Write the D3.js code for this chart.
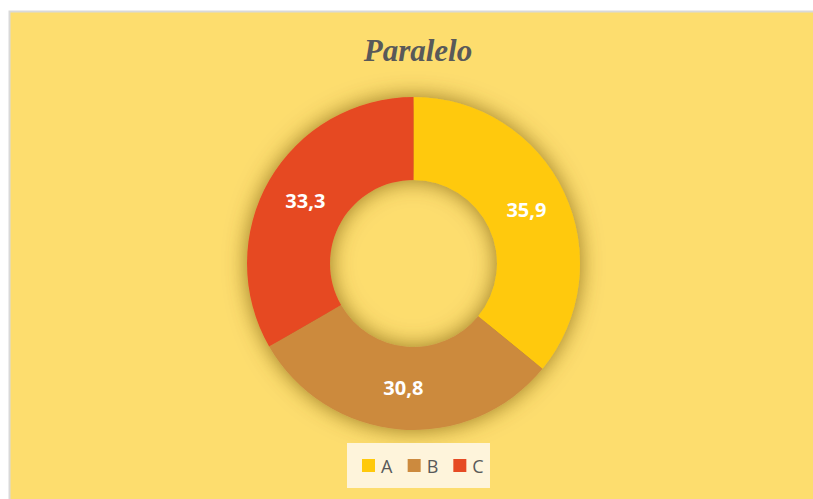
<!DOCTYPE html>
<html>
<head>
<meta charset="utf-8">
<script src="https://cdn.jsdelivr.net/npm/d3@7"></script>
<style>
  body { margin: 0; background: #fff; }
  svg { display: block; }
</style>
</head>
<body>
<svg width="813" height="499"></svg>
<script>
const categories = ["A", "B", "C"];
const values = [35.9, 30.8, 33.3];
const labels = ["35,9", "30,8", "33,3"];
const colors = ["#FFC90B", "#CC8A3E", "#E64A23"];

const svg = d3.select("svg");
const width = +svg.attr("width");
const height = +svg.attr("height");

// chart area
svg.append("rect")
    .attr("x", 9.5)
    .attr("y", 11.5)
    .attr("width", width)
    .attr("height", height)
    .attr("fill", "#FDDD6E")
    .attr("stroke", "#D9D9D9")
    .attr("stroke-width", 2);

// soft shadow like excel outer shadow
const defs = svg.append("defs");
const filter = defs.append("filter")
    .attr("id", "shadow")
    .attr("x", "-30%").attr("y", "-30%")
    .attr("width", "160%").attr("height", "160%");
filter.append("feDropShadow")
    .attr("dx", 0).attr("dy", 0)
    .attr("stdDeviation", 11)
    .attr("flood-color", "#6e5000")
    .attr("flood-opacity", 0.7);

svg.append("text")
    .attr("x", 418)
    .attr("y", 61)
    .attr("text-anchor", "middle")
    .attr("font-family", "'Liberation Serif', 'Times New Roman', serif")
    .attr("font-weight", "bold")
    .attr("font-style", "italic")
    .attr("font-size", 31)
    .attr("fill", "#595959")
    .text("Paralelo");

const cx = 413.5, cy = 263.5;
const outerR = 166.5, innerR = 83.5;

const pie = d3.pie().sort(null).value(d => d.value);
const arc = d3.arc().innerRadius(innerR).outerRadius(outerR);
const labelArc = d3.arc().innerRadius(125).outerRadius(125);

const data = categories.map((c, i) => ({ cat: c, value: values[i], label: labels[i], color: colors[i] }));
const arcs = pie(data);

const g = svg.append("g").attr("transform", `translate(${cx},${cy})`);

g.append("g")
    .attr("filter", "url(#shadow)")
    .selectAll("path")
    .data(arcs)
    .enter()
    .append("path")
    .attr("d", arc)
    .attr("fill", d => d.data.color);

g.selectAll("text.lbl")
    .data(arcs)
    .enter()
    .append("text")
    .attr("class", "lbl")
    .attr("transform", d => `translate(${labelArc.centroid(d)})`)
    .attr("text-anchor", "middle")
    .attr("dy", "0.36em")
    .attr("font-family", "'Open Sans', sans-serif")
    .attr("font-weight", "bold")
    .attr("font-size", 20)
    .attr("fill", "#fff")
    .text(d => d.data.label);

// legend
const legend = svg.append("g");
legend.append("rect")
    .attr("x", 347)
    .attr("y", 443)
    .attr("width", 143)
    .attr("height", 45)
    .attr("fill", "#FEF4DB");

const legX = d3.scaleBand().domain(categories).range([362, 362 + 137]);
const item = legend.selectAll("g.item")
    .data(data)
    .enter()
    .append("g")
    .attr("class", "item")
    .attr("transform", d => `translate(${legX(d.cat)},0)`);

item.append("rect")
    .attr("x", 0)
    .attr("y", 459)
    .attr("width", 13)
    .attr("height", 13)
    .attr("fill", d => d.color);

item.append("text")
    .attr("x", 19)
    .attr("y", 472.5)
    .attr("font-family", "'Open Sans', sans-serif")
    .attr("font-size", 18)
    .attr("fill", "#595959")
    .text(d => d.cat);
</script>
</body>
</html>
